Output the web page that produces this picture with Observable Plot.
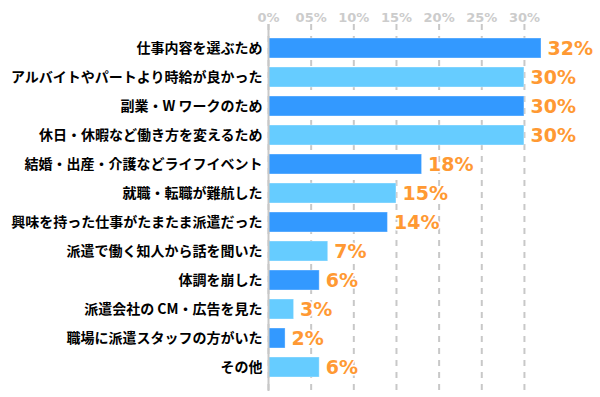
<!DOCTYPE html>
<html>
<head>
<meta charset="utf-8">
<script src="https://cdn.jsdelivr.net/npm/d3@7"></script>
<script src="https://cdn.jsdelivr.net/npm/@observablehq/plot@0.6"></script>
<style>
  html, body { margin: 0; padding: 0; background: #fff; }
  #chart svg { display: block; }
</style>
</head>
<body>
<div id="chart"></div>
<script>
const categories = [
  "仕事内容を選ぶため",
  "アルバイトやパートより時給が良かった",
  "副業・W ワークのため",
  "休日・休暇など働き方を変えるため",
  "結婚・出産・介護などライフイベント",
  "就職・転職が難航した",
  "興味を持った仕事がたまたま派遣だった",
  "派遣で働く知人から話を聞いた",
  "体調を崩した",
  "派遣会社の CM・広告を見た",
  "職場に派遣スタッフの方がいた",
  "その他"
];
const values = [32, 30, 30, 30, 18, 15, 14, 7, 6, 3, 2, 6];
const tickValues = [0, 5, 10, 15, 20, 25, 30];
const tickLabels = ["0%", "05%", "10%", "15%", "20%", "25%", "30%"];
const barColors = ["#3399ff", "#66ccff"];

const data = categories.map((c, i) => ({ category: c, value: values[i], shade: i % 2 }));

const chart = Plot.plot({
  width: 600,
  height: 397,
  marginLeft: 268,
  marginRight: 59,
  marginTop: 24,
  marginBottom: 6,
  style: { fontFamily: "'DejaVu Sans', sans-serif", background: "#fff" },
  x: { domain: [0, 32] },
  y: { domain: categories, padding: 0.3 },
  color: { domain: [0, 1], range: barColors },
  marks: [
    Plot.gridX(tickValues, { stroke: "#c8c8c8", strokeOpacity: 1, strokeWidth: 2, strokeDasharray: "6,6" }),
    Plot.barX(data, { y: "category", x: "value", fill: d => d.shade, stroke: "#ffffff", strokeOpacity: 0.35, strokeWidth: 1 }),
    Plot.ruleX([0], { stroke: "#c8c8c8", strokeWidth: 2 }),
    Plot.axisX(tickValues, {
      anchor: "top", tickSize: 0, tickPadding: 3,
      tickFormat: (d) => tickLabels[tickValues.indexOf(d)],
      fill: "#cccccc", fontSize: 13, fontWeight: "bold", label: null
    }),
    Plot.axisY({
      anchor: "left", tickSize: 0, tickPadding: 6, label: null,
      fontSize: 14, fontWeight: "bold", fill: "#000",
      fontFamily: "'Noto Sans CJK JP', sans-serif"
    }),
    Plot.text(data, {
      y: "category", x: "value", text: d => d.value + "%",
      textAnchor: "start", dx: 6, fill: "#ff9933",
      stroke: "#ffffff", strokeWidth: 3, paintOrder: "stroke",
      fontSize: 19, fontWeight: "bold"
    })
  ]
});
document.getElementById("chart").appendChild(chart);
</script>
</body>
</html>
